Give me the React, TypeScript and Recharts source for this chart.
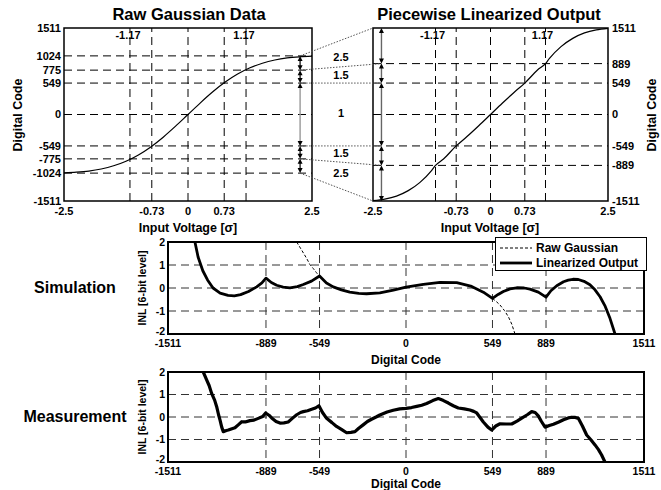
import React from "react";
import {
  ComposedChart,
  Line,
  XAxis,
  YAxis,
  CartesianGrid,
  ReferenceLine,
  ReferenceArea,
  Legend,
} from "recharts";

const FONT = '"Liberation Sans", Arial, Helvetica, sans-serif';

// ---- top panels: input voltage [sigma] vs digital code ----
const sigmaTicks = [-2.5, -0.73, 0, 0.73, 2.5];
const sigmaGrid = [-1.17, -0.73, 0, 0.73, 1.17];
const rawCodeTicks = [-1511, -1024, -775, -549, 0, 549, 775, 1024, 1511];
const rawCodeGrid = [-1024, -775, -549, 0, 549, 775, 1024];
const linCodeTicks = [-1511, -889, -549, 0, 549, 889, 1511];
const linCodeGrid = [-889, -549, 0, 549, 889];

const rawSigma = [-2.5, -2.25, -2, -1.75, -1.5, -1.25, -1, -0.75, -0.5, -0.25, 0, 0.25, 0.5, 0.75, 1, 1.25, 1.5, 1.75, 2, 2.25, 2.5];
const rawCode = [-1020, -1008, -988, -952, -896, -816, -706, -566, -396, -204, 0, 204, 396, 566, 706, 816, 896, 952, 988, 1008, 1020];

const linSigma = [-2.5, -2.25, -2, -1.75, -1.5, -1.25, -1.17, -1, -0.73, -0.5, -0.25, 0, 0.25, 0.5, 0.73, 1, 1.17, 1.25, 1.5, 1.75, 2, 2.25, 2.5];
const linCode = [-1505, -1478, -1425, -1330, -1185, -975, -889, -777, -549, -385, -196, 0, 196, 385, 549, 777, 889, 975, 1185, 1330, 1425, 1478, 1505];

// segment boundaries joined by the dotted lines, and the length ratios
const rawLevels = [1024, 775, 549, -549, -775, -1024];
const linLevels = [1511, 889, 549, -549, -889, -1511];
const ratioLabels = ["2.5", "1.5", "1", "1.5", "2.5"];
const arrowSigmaRaw = 2.26;
const arrowSigmaLin = -2.32;

// ---- INL panels ----
const codeTicks = [-1511, -889, -549, 0, 549, 889, 1511];
const inlTicks = [-2, -1, 0, 1, 2];

const simCode = [-1340, -1320, -1290, -1260, -1225, -1180, -1130, -1090, -1050, -1000, -948, -915, -889, -855, -821, -780, -737, -690, -652, -600, -549, -505, -462, -410, -357, -300, -250, -166, -80, 0, 110, 216, 322, 417, 491, 549, 585, 618, 660, 703, 750, 787, 840, 889, 920, 957, 1000, 1030, 1060, 1094, 1130, 1168, 1200, 1232, 1265, 1295, 1327];
const simInl = [2, 1.35, 0.75, 0.35, 0, -0.22, -0.32, -0.34, -0.29, -0.15, 0.05, 0.22, 0.43, 0.24, 0.12, 0.04, 0.01, 0.06, 0.15, 0.3, 0.52, 0.22, 0.05, -0.08, -0.18, -0.23, -0.25, -0.21, -0.09, 0.04, 0.16, 0.24, 0.23, 0.07, -0.18, -0.45, -0.28, -0.15, -0.04, 0.01, 0, -0.05, -0.18, -0.4, -0.12, 0.1, 0.27, 0.34, 0.38, 0.37, 0.29, 0.14, -0.08, -0.38, -0.8, -1.32, -2];

const rawGaussCode = [-694, -660, -631, -610, -589, -570, -549, 0, 549, 575, 597, 625, 650, 672, 692];
const rawGaussInl = [2, 1.62, 1.29, 1.02, 0.85, 0.68, 0.5, null, -0.45, -0.6, -0.74, -0.98, -1.25, -1.58, -2];

const measCode = [-1287, -1265, -1250, -1234, -1215, -1202, -1190, -1181, -1170, -1160, -1140, -1128, -1105, -1086, -1065, -1043, -1020, -991, -965, -938, -910, -891, -870, -853, -825, -800, -775, -748, -720, -694, -670, -652, -625, -599, -575, -553, -530, -504, -470, -441, -410, -377, -350, -324, -300, -272, -245, -219, -190, -166, -120, -81, -40, 0, 35, 68, 100, 131, 170, 205, 235, 269, 300, 332, 370, 406, 430, 449, 470, 491, 520, 544, 570, 597, 635, 671, 705, 735, 770, 798, 820, 840, 860, 883, 910, 936, 970, 1000, 1030, 1053, 1075, 1094, 1120, 1147, 1175, 1200, 1222, 1242, 1263];
const measInl = [2, 1.64, 1.4, 1.05, 0.75, 0.46, 0.1, -0.13, -0.45, -0.65, -0.6, -0.58, -0.52, -0.48, -0.35, -0.21, -0.22, -0.16, -0.14, -0.06, 0.02, 0.18, 0.08, -0.04, -0.2, -0.27, -0.26, -0.22, -0.05, 0.1, 0.2, 0.24, 0.28, 0.34, 0.4, 0.5, 0.2, -0.06, -0.25, -0.42, -0.55, -0.7, -0.68, -0.65, -0.5, -0.35, -0.2, -0.1, 0, 0.09, 0.22, 0.3, 0.36, 0.38, 0.42, 0.47, 0.52, 0.6, 0.73, 0.82, 0.74, 0.62, 0.5, 0.4, 0.36, 0.31, 0.25, 0.18, -0.02, -0.22, -0.45, -0.58, -0.4, -0.3, -0.31, -0.31, -0.18, -0.05, 0.1, 0.24, 0.2, 0.05, -0.2, -0.45, -0.38, -0.32, -0.22, -0.12, -0.04, -0.01, -0.02, -0.06, -0.4, -0.8, -1.02, -1.24, -1.45, -1.69, -2];

const zip = (xs: number[], ys: (number | null)[]) => xs.map((x, i) => ({ x, y: ys[i] }));

// both top panels share one plot area: each x axis spans it with its own scale
const L_DOMAIN = [-2.5, 8.4677];
const R_DOMAIN = [-9.0745, 2.5];
const rToL = (x: number) =>
  L_DOMAIN[0] + ((x - R_DOMAIN[0]) * (L_DOMAIN[1] - L_DOMAIN[0])) / (R_DOMAIN[1] - R_DOMAIN[0]);

const tickFont = { fill: "#000", fontSize: 11, fontWeight: 700, fontFamily: FONT };
const smallTick = { fill: "#000", fontSize: 10.5, fontWeight: 700, fontFamily: FONT };

// y tick for the INL panels; the bottom label sits a little higher
const InlTick = ({ x, y, payload }: any) => (
  <text x={x} y={y + (payload.value === -2 ? -3 : 0)} dy="0.355em" textAnchor="end" {...smallTick}>
    {payload.value}
  </text>
);

const arrowShape = (color: string) => (p: any) => {
  const x = p.x1;
  const top = Math.min(p.y1, p.y2);
  const bot = Math.max(p.y1, p.y2);
  return (
    <g>
      <line x1={x} y1={top + 2} x2={x} y2={bot - 2} stroke={color} strokeWidth={1.4} />
      <path d={`M${x},${top} l-2.5,5 h5 z`} fill="#000" />
      <path d={`M${x},${bot} l-2.5,-5 h5 z`} fill="#000" />
    </g>
  );
};

function Txt({ x, y, size, rot = 0, children }: any) {
  return (
    <div
      style={{
        position: "absolute",
        left: x,
        top: y,
        transform: `translate(-50%, -50%) rotate(${rot}deg)`,
        fontFamily: FONT,
        fontWeight: 700,
        fontSize: size,
        lineHeight: 1,
        whiteSpace: "nowrap",
        color: "#000",
      }}
    >
      {children}
    </div>
  );
}

const legendOrder = ["Raw Gaussian", "Linearized Output"];

function LegendBox({ payload }: any) {
  const items = [...(payload || [])].sort(
    (a: any, b: any) => legendOrder.indexOf(a.value) - legendOrder.indexOf(b.value)
  );
  return (
    <div
      style={{
        width: 152,
        height: 34,
        boxSizing: "border-box",
        border: "1.5px solid #000",
        background: "#fff",
        padding: "2px 0 0 4px",
      }}
    >
      {items.map((e: any) => (
        <div key={e.value} style={{ display: "flex", alignItems: "center", height: 15 }}>
          <svg width={32} height={8}>
            <line
              x1={0}
              y1={4}
              x2={32}
              y2={4}
              stroke="#000"
              strokeWidth={e.payload?.strokeWidth}
              strokeDasharray={e.payload?.strokeDasharray}
            />
          </svg>
          <span style={{ marginLeft: 4, fontSize: 12, fontWeight: 700, fontFamily: FONT }}>
            {e.value}
          </span>
        </div>
      ))}
    </div>
  );
}

function TopPanels() {
  const rawData = zip(rawSigma, rawCode);
  const linData = zip(linSigma, linCode);
  const dash = "8 5";
  return (
    <ComposedChart width={661} height={240} margin={{ top: 28, right: 8, bottom: 37, left: 4 }}>
      <XAxis xAxisId="L" type="number" dataKey="x" domain={L_DOMAIN} ticks={sigmaTicks} allowDataOverflow
        height={1} axisLine={false} tickLine={false} tickSize={4} tickMargin={2} interval={0} tick={tickFont} />
      <XAxis xAxisId="R" type="number" dataKey="x" domain={R_DOMAIN} ticks={sigmaTicks} allowDataOverflow
        height={1} axisLine={false} tickLine={false} tickSize={3} tickMargin={2} interval={0} tick={tickFont} />
      <YAxis yAxisId="raw" type="number" domain={[-1511, 1511]} ticks={rawCodeTicks} allowDataOverflow
        width={60} axisLine={false} tickLine={false} tickSize={1} tickMargin={2} interval={0} tick={tickFont} />
      <YAxis yAxisId="lin" orientation="right" type="number" domain={[-1511, 1511]} ticks={linCodeTicks} allowDataOverflow
        width={45} axisLine={false} tickLine={false} tickSize={2} tickMargin={2} interval={0} tick={tickFont} />

      {rawCodeGrid.map((v) => (
        <ReferenceLine key={"rh" + v} xAxisId="L" yAxisId="raw" segment={[{ x: -2.5, y: v }, { x: 2.5, y: v }]}
          stroke="#000" strokeDasharray={dash} />
      ))}
      {sigmaGrid.map((v) => (
        <ReferenceLine key={"rv" + v} xAxisId="L" yAxisId="raw" x={v} stroke="#000" strokeDasharray={dash}
          label={Math.abs(v) === 1.17 ? { value: String(v), position: "insideTop", offset: 3, dx: -2, ...tickFont } : undefined} />
      ))}
      {linCodeGrid.map((v) => (
        <ReferenceLine key={"lh" + v} xAxisId="R" yAxisId="lin" segment={[{ x: -2.5, y: v }, { x: 2.5, y: v }]}
          stroke="#000" strokeDasharray={dash} />
      ))}
      {sigmaGrid.map((v) => (
        <ReferenceLine key={"lv" + v} xAxisId="R" yAxisId="lin" x={v} stroke="#000" strokeDasharray={dash}
          label={Math.abs(v) === 1.17 ? { value: String(v), position: "insideTop", offset: 3, dx: -3, ...tickFont } : undefined} />
      ))}

      {rawLevels.map((v, i) => (
        <ReferenceLine key={"c" + i} xAxisId="L" yAxisId="raw"
          segment={[
            { x: arrowSigmaRaw, y: v },
            { x: rToL(i === 0 || i === 5 ? -2.5 : arrowSigmaLin), y: linLevels[i] },
          ]}
          stroke="#555" strokeDasharray="1.5 1.5" />
      ))}

      <Line xAxisId="L" yAxisId="raw" data={rawData} dataKey="y" type="monotone" dot={false}
        stroke="#000" strokeWidth={1.2} isAnimationActive={false} />
      <Line xAxisId="R" yAxisId="lin" data={linData} dataKey="y" type="monotone" dot={false}
        stroke="#000" strokeWidth={1.2} isAnimationActive={false} />

      <ReferenceArea xAxisId="L" yAxisId="raw" x1={-2.5} x2={2.5} y1={-1511} y2={1511}
        fill="none" stroke="#000" strokeWidth={1.5} />
      <ReferenceArea xAxisId="R" yAxisId="lin" x1={-2.5} x2={2.5} y1={-1511} y2={1511}
        fill="none" stroke="#000" strokeWidth={1.5} />

      {ratioLabels.map((_, i) => (
        <ReferenceLine key={"ar" + i} xAxisId="L" yAxisId="raw"
          segment={[{ x: arrowSigmaRaw, y: rawLevels[i] }, { x: arrowSigmaRaw, y: rawLevels[i + 1] }]}
          shape={arrowShape(i === 2 ? "#999" : "#222")} />
      ))}
      {ratioLabels.map((_, i) => (
        <ReferenceLine key={"al" + i} xAxisId="R" yAxisId="lin"
          segment={[{ x: arrowSigmaLin, y: linLevels[i] }, { x: arrowSigmaLin, y: linLevels[i + 1] }]}
          shape={arrowShape("#666")} />
      ))}
    </ComposedChart>
  );
}

function InlPanel({ series, legend, height, top, bottom }: any) {
  return (
    <ComposedChart width={661} height={height} margin={{ top, right: 17, bottom, left: 138 }}>
      <CartesianGrid stroke="#333" strokeDasharray="8 5"
        horizontalValues={[-1, 0, 1]} verticalValues={[-889, -549, 0, 549, 889]} />
      <XAxis type="number" dataKey="x" domain={[-1511, 1511]} ticks={codeTicks} allowDataOverflow
        height={20} axisLine={false} tickLine={false} tickSize={3} tickMargin={3} interval={0} tick={smallTick} />
      <YAxis type="number" domain={[-2, 2]} ticks={inlTicks} allowDataOverflow
        width={30} axisLine={false} tickLine={false} tickSize={1} tickMargin={2} interval={0} tick={<InlTick />} />
      {series.map((s: any) => (
        <Line key={s.name} name={s.name} data={s.data} dataKey="y" type="linear" dot={false}
          stroke="#000" strokeWidth={s.width} strokeDasharray={s.dash} strokeLinejoin="round"
          isAnimationActive={false} />
      ))}
      <ReferenceArea x1={-1511} x2={1511} y1={-2} y2={2} fill="none" stroke="#000" strokeWidth={2} />
      {legend && (
        <Legend layout="vertical" align="center" verticalAlign="middle" width={152} height={34}
          wrapperStyle={{ left: 495, top: 7 }} content={<LegendBox />} />
      )}
    </ComposedChart>
  );
}

export default function App() {
  const simSeries = [
    { name: "Raw Gaussian", data: zip(rawGaussCode, rawGaussInl), width: 1, dash: "3 2" },
    { name: "Linearized Output", data: zip(simCode, simInl), width: 2.8 },
  ];
  const measSeries = [{ name: "Measured", data: zip(measCode, measInl), width: 3.2 }];

  return (
    <div style={{ position: "absolute", left: 0, top: 0, width: 661, height: 490, background: "#fff", overflow: "hidden" }}>
      <div style={{ position: "absolute", left: 0, top: 0 }}>
        <TopPanels />
      </div>
      <div style={{ position: "absolute", left: 0, top: 230 }}>
        <InlPanel series={simSeries} legend height={135} top={12} bottom={11} />
      </div>
      <div style={{ position: "absolute", left: 0, top: 360 }}>
        <InlPanel series={measSeries} height={130} top={12} bottom={8} />
      </div>

      <Txt x={189} y={14} size={16.5}>Raw Gaussian Data</Txt>
      <Txt x={489} y={14} size={16.5}>Piecewise Linearized Output</Txt>
      <Txt x={188} y={228} size={12.5}>Input Voltage [σ]</Txt>
      <Txt x={490} y={228} size={12.5}>Input Voltage [σ]</Txt>
      <Txt x={18} y={115} size={12.5} rot={-90}>Digital Code</Txt>
      <Txt x={652} y={115} size={12.5} rot={-90}>Digital Code</Txt>

      {ratioLabels.map((t, i) => (
        <Txt key={i} x={341} y={[57, 75, 113, 153, 173][i]} size={11}>{t}</Txt>
      ))}

      <Txt x={75} y={288} size={16}>Simulation</Txt>
      <Txt x={75} y={417} size={16}>Measurement</Txt>
      <Txt x={142} y={288} size={10.5} rot={-90}>INL [6-bit level]</Txt>
      <Txt x={142} y={417} size={10.5} rot={-90}>INL [6-bit level]</Txt>
      <Txt x={406} y={360} size={12}>Digital Code</Txt>
      <Txt x={406} y={484} size={12}>Digital Code</Txt>
    </div>
  );
}
